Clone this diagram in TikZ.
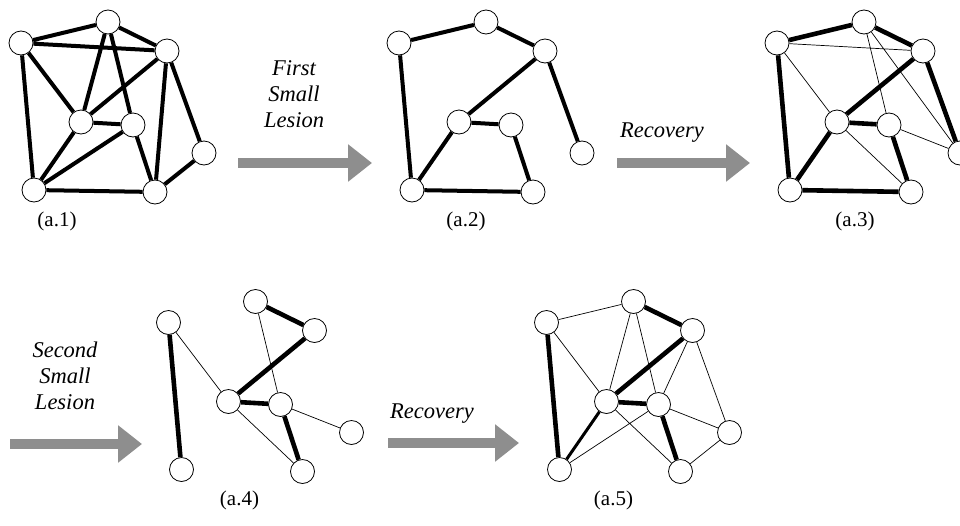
\documentclass[tikz,border=0pt]{standalone}
\usepackage{fontspec}
\setmainfont{Liberation Serif}
\usetikzlibrary{
  arrows.meta,
  backgrounds
}

\definecolor{arrowgray}{HTML}{8E8E8E}

\tikzset{
  vtx/.style={circle, draw, fill=white, line width=0.8pt,
    minimum size=24pt, inner sep=0pt},
  bold/.style={line width=4pt},
  strong/.style={line width=4.6pt},
  medium/.style={line width=3pt},
  weak/.style={line width=0.7pt},
  lesion/.style={draw=arrowgray, line width=10pt,
    -{Triangle[width=36pt,length=24pt]}},
  stage/.style={font=\fontsize{22.5}{26}\selectfont\itshape, align=center},
  caption/.style={font=\fontsize{21}{24}\selectfont}
}

% the eight vertices of one network, names #1a ... #1h
\newcommand{\netnodes}[1]{%
  \node[vtx] (#1a) at (21,43) {};
  \node[vtx] (#1b) at (108,22) {};
  \node[vtx] (#1c) at (167,51) {};
  \node[vtx] (#1d) at (81,122) {};
  \node[vtx] (#1e) at (133,125) {};
  \node[vtx] (#1f) at (204,153) {};
  \node[vtx] (#1g) at (34,190) {};
  \node[vtx] (#1h) at (155,192) {};
}

\begin{document}
\begin{tikzpicture}[
    x=1pt, y=-1pt
    ]

    \clip (0,0) rectangle (960,525);

    % (a.1) intact network
    \netnodes{p}
    \begin{pgfonlayer}{background}
    \draw[bold] (pa)--(pb) (pa)--(pc) (pb)--(pc) (pa)--(pd) (pa)--(pg)
      (pb)--(pd) (pb)--(pe) (pc)--(pd) (pc)--(ph) (pc)--(pf)
      (pd)--(pe) (pd)--(pg) (pe)--(pg) (pe)--(ph) (pg)--(ph) (ph)--(pf);
    \end{pgfonlayer}
    \node[caption] (cap1) at (57,221) {(a.1)};

    % (a.2) after the first lesion
    \begin{scope}[shift={(378,0)}]
    \netnodes{q}
    \begin{pgfonlayer}{background}
    \draw[bold] (qa)--(qb) (qb)--(qc) (qc)--(qd) (qc)--(qf) (qa)--(qg)
      (qd)--(qe) (qd)--(qg) (qe)--(qh) (qg)--(qh);
    \end{pgfonlayer}
    \node[caption] (cap2) at (88,221) {(a.2)};
    \end{scope}

    % (a.3) recovered
    \begin{scope}[shift={(756,0)}]
    \netnodes{r}
    \begin{pgfonlayer}{background}
    \draw[strong] (ra)--(rb) (rb)--(rc) (rc)--(rd) (rc)--(rf) (ra)--(rg)
      (rd)--(re) (rd)--(rg) (re)--(rh) (rg)--(rh);
    \draw[weak] (ra)--(rc) (ra)--(rd) (rb)--(re) (rb)--(rf)
      (rd)--(rh) (re)--(rf);
    \end{pgfonlayer}
    \node[caption] (cap3) at (99,221) {(a.3)};
    \end{scope}

    % (a.4) after the second lesion
    \begin{scope}[shift={(147.5,279.5)}]
    \netnodes{s}
    \begin{pgfonlayer}{background}
    \draw[strong] (sa)--(sg) (sb)--(sc) (sc)--(sd) (sd)--(se) (se)--(sh);
    \draw[weak] (sa)--(sd) (sb)--(se) (sd)--(sh) (se)--(sf);
    \end{pgfonlayer}
    \node[caption] (cap4) at (92,221) {(a.4)};
    \end{scope}

    % (a.5) recovered again
    \begin{scope}[shift={(525.5,279.5)}]
    \netnodes{t}
    \begin{pgfonlayer}{background}
    \draw[strong] (ta)--(tg) (tb)--(tc) (tc)--(td) (td)--(te) (te)--(th);
    \draw[medium] (td)--(tg);
    \draw[weak] (ta)--(tb) (ta)--(td) (tb)--(td) (tb)--(te) (tc)--(te)
      (tc)--(tf) (td)--(th) (te)--(tg) (te)--(tf) (tf)--(th);
    \end{pgfonlayer}
    \node[caption] (cap5) at (88,221) {(a.5)};
    \end{scope}

    % setas
    \coordinate (l1s) at (238,163);
    \coordinate (l1e) at (372,163);
    \coordinate (r1s) at (617,163);
    \coordinate (r1e) at (750,163);
    \coordinate (l2s) at (10,444);
    \coordinate (l2e) at (142,444);
    \coordinate (r2s) at (388,443);
    \coordinate (r2e) at (519,443);

    \draw[lesion] (l1s)--(l1e);
    \draw[lesion] (r1s)--(r1e);
    \draw[lesion] (l2s)--(l2e);
    \draw[lesion] (r2s)--(r2e);

    % rotulos
    \node[stage] (first) at (294,94) {First\\Small\\Lesion};
    \node[stage] (rec1) at (662,133) {Recovery};
    \node[stage] (second) at (65,376) {Second\\Small\\Lesion};
    \node[stage] (rec2) at (432,414) {Recovery};

\end{tikzpicture}
\end{document}
